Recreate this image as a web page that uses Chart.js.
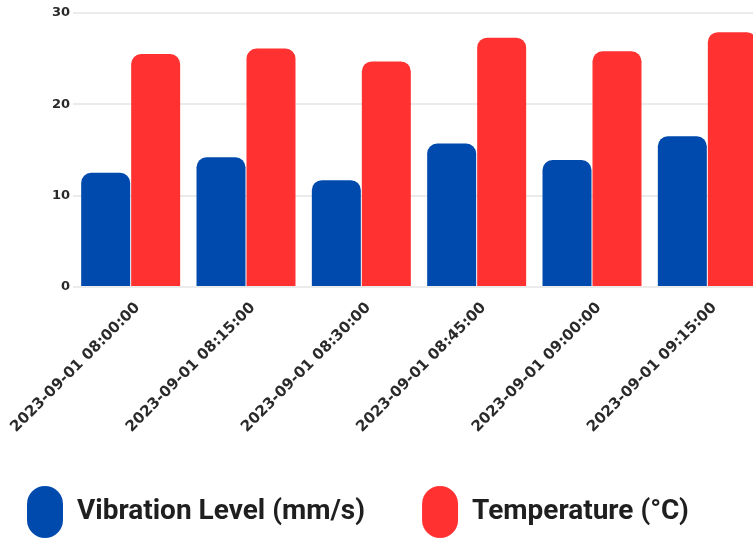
<!DOCTYPE html>
<html>
<head>
<meta charset="utf-8">
<title>Vibration and Temperature</title>
<script src="https://cdn.jsdelivr.net/npm/chart.js@4.4.1/dist/chart.umd.min.js"></script>
<style>
	html, body { margin: 0; padding: 0; background: #ffffff; }
	#viewport { width: 753px; height: 540px; overflow: hidden; }
	#graphSection { width: 770px; height: 540px; }
</style>
</head>
<body>
<div id="viewport">
	<div id="graphSection"><canvas id="sensorGraph"></canvas></div>
</div>
<script>
// readings taken every 15 minutes
var timeLabels = ["2023-09-01 08:00:00", "2023-09-01 08:15:00", "2023-09-01 08:30:00", "2023-09-01 08:45:00", "2023-09-01 09:00:00", "2023-09-01 09:15:00"];
var vibrationValues = [12.5, 14.2, 11.7, 15.7, 13.9, 16.5];
var temperatureValues = [25.5, 26.1, 24.7, 27.3, 25.8, 27.9];
var yTicks = [0, 10, 20, 30];

// legend sits a bit left of centre with a wide gap between the two items,
// so move its box after layout instead of letting it wrap
var legendPlacer = {
	id: 'legendPlacer',
	afterLayout: function(chart) {
		var legend = chart.legend;
		var pad = legend.options.labels.padding;
		legend.left = 27 - pad;
		legend.right = 900;
		legend.top = 486 - pad;
	}
};

var context = document.getElementById("sensorGraph").getContext("2d");
var sensorChart = new Chart(context, {
	type: 'bar',
	data: {
		labels: timeLabels,
		datasets: [{
			label: 'Vibration Level (mm/s)',
			data: vibrationValues,
			backgroundColor: "#004AAD",
			borderRadius: 10,
			categoryPercentage: 0.867,
			barPercentage: 0.98
		}, {
			label: 'Temperature (°C)',
			data: temperatureValues,
			backgroundColor: "#FF3131",
			borderRadius: 10,
			categoryPercentage: 0.867,
			barPercentage: 0.98
		}]
	},
	plugins: [legendPlacer],
	options: {
		responsive: true,
		maintainAspectRatio: false,
		animation: false,
		layout: {
			padding: { top: 13, left: 0, right: 5, bottom: 0 }
		},
		plugins: {
			tooltip: { enabled: false },
			legend: {
				position: 'bottom',
				align: 'start',
				maxHeight: 108,
				labels: {
					boxWidth: 36,
					boxHeight: 52,
					useBorderRadius: true,
					borderRadius: 18,
					padding: 57,
					color: "#1f1f1f",
					font: { family: "Roboto", size: 28, weight: "bold" }
				}
			}
		},
		scales: {
			x: {
				grid: { display: false },
				border: { display: false },
				ticks: {
					maxRotation: 45,
					minRotation: 45,
					padding: 4,
					labelOffset: 7,
					color: "#2a2a2a",
					font: { family: "DejaVu Sans", size: 15, weight: "bold" }
				},
				afterFit: function(scale) {
					scale.height = 145;
					scale.paddingLeft = 0;
				}
			},
			y: {
				min: 0,
				max: 30,
				border: { display: false },
				grid: { color: "#ebebeb", lineWidth: 2, drawTicks: false },
				afterBuildTicks: function(scale) {
					scale.ticks = yTicks.map(function(v) { return { value: v }; });
				},
				ticks: {
					padding: 3,
					color: "#2a2a2a",
					font: { family: "DejaVu Sans", size: 13, weight: "bold" }
				},
				afterFit: function(scale) { scale.width = 73; }
			}
		}
	}
});
</script>
</body>
</html>
